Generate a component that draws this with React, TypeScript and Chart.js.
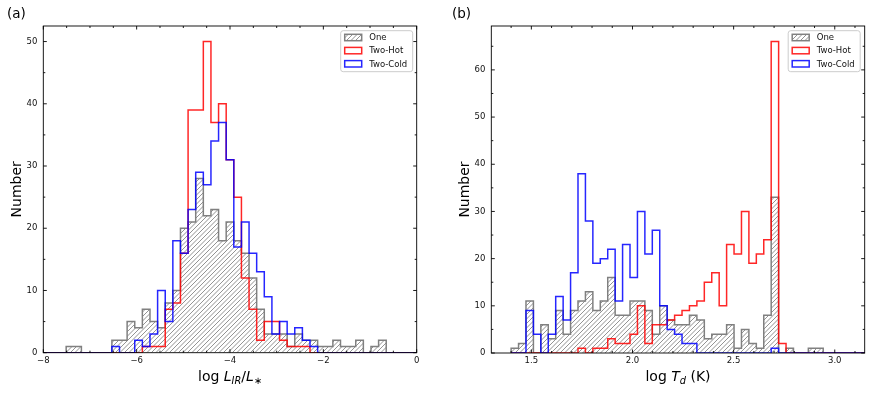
import React, { useEffect, useRef } from 'react';
import { Chart, registerables } from 'chart.js';

Chart.register(...registerables);

// ---------- shared ----------
const SERIES_NAMES = ['One', 'Two-Hot', 'Two-Cold'];
const Y_TITLE = 'Number';

// ---------- panel (a): log L_IR / L_* ----------
const A_LABEL = '(a)';
const A_BIN_START = -8;
const A_BIN_END = 0;
const A_BIN_COUNT = 49;
const A_ONE = [0, 0, 0, 1, 1, 0, 0, 0, 0, 2, 2, 5, 4, 7, 5, 4, 8, 10, 20, 21, 28, 22, 23, 18, 21, 18, 16, 12, 7, 3, 3, 3, 1, 3, 2, 2, 1, 1, 2, 1, 1, 2, 0, 1, 2, 0, 0, 0, 0];
const A_HOT = [0, 0, 0, 0, 0, 0, 0, 0, 0, 0, 0, 0, 0, 1, 1, 1, 7, 8, 16, 39, 39, 50, 37, 40, 31, 25, 12, 7, 2, 5, 5, 2, 1, 1, 1, 0, 0, 0, 0, 0, 0, 0, 0, 0, 0, 0, 0, 0, 0];
const A_COLD = [0, 0, 0, 0, 0, 0, 0, 0, 0, 1, 0, 0, 2, 1, 3, 10, 5, 18, 16, 23, 29, 27, 34, 37, 31, 17, 21, 16, 13, 9, 3, 5, 3, 4, 2, 1, 0, 0, 0, 0, 0, 0, 0, 0, 0, 0, 0, 0, 0];
const A_X_MIN = -8;
const A_X_MAX = 0;
const A_Y_MAX = 52.5;
const A_X_TICKS = [-8, -6, -4, -2, 0];
const A_X_TICK_LABELS = ['\u22128', '\u22126', '\u22124', '\u22122', '0'];
const A_Y_TICKS = [0, 10, 20, 30, 40, 50];
const A_Y_TICK_LABELS = ['0', '10', '20', '30', '40', '50'];
const A_X_MINOR_STEP = 0.5;
const A_Y_MINOR_STEP = 5;
const A_X_TITLE = [
  { t: 'log ', it: false, sub: false },
  { t: 'L', it: true, sub: false },
  { t: 'IR', it: true, sub: true },
  { t: '/', it: false, sub: false },
  { t: 'L', it: true, sub: false },
  { t: '\u2217', it: false, sub: true },
];

// ---------- panel (b): log T_d ----------
const B_LABEL = '(b)';
const B_BIN_START = 1.4;
const B_BIN_END = 3.2;
const B_BIN_COUNT = 49;
const B_ONE = [1, 2, 11, 0, 6, 3, 9, 4, 9, 11, 13, 9, 11, 16, 8, 8, 11, 11, 9, 4, 10, 7, 6, 6, 8, 7, 3, 4, 4, 6, 1, 5, 2, 1, 8, 33, 0, 1, 0, 0, 1, 1, 0, 0, 0, 0, 0, 0, 0];
const B_HOT = [0, 0, 0, 0, 0, 0, 0, 0, 0, 1, 0, 1, 1, 3, 2, 2, 4, 10, 2, 6, 6, 7, 8, 9, 10, 11, 15, 17, 10, 23, 21, 30, 19, 21, 24, 66, 2, 0, 0, 0, 0, 0, 0, 0, 0, 0, 0, 0, 0];
const B_COLD = [0, 0, 9, 4, 0, 4, 12, 7, 17, 38, 28, 19, 20, 22, 11, 23, 16, 30, 21, 26, 10, 5, 4, 2, 2, 0, 0, 0, 0, 0, 0, 0, 0, 0, 0, 1, 0, 0, 0, 0, 0, 0, 0, 0, 0, 0, 0, 0, 0];
const B_X_MIN = 1.302;
const B_X_MAX = 3.148;
const B_Y_MAX = 69.3;
const B_X_TICKS = [1.5, 2.0, 2.5, 3.0];
const B_X_TICK_LABELS = ['1.5', '2.0', '2.5', '3.0'];
const B_Y_TICKS = [0, 10, 20, 30, 40, 50, 60];
const B_Y_TICK_LABELS = ['0', '10', '20', '30', '40', '50', '60'];
const B_X_MINOR_STEP = 0.1;
const B_Y_MINOR_STEP = 5;
const B_X_TITLE = [
  { t: 'log ', it: false, sub: false },
  { t: 'T', it: true, sub: false },
  { t: 'd', it: true, sub: true },
  { t: ' (K)', it: false, sub: false },
];

const FONT = '"DejaVu Sans", sans-serif';
const COLOR_ONE = '#808080';
const COLOR_HOT = 'rgba(255,0,0,0.85)';
const COLOR_COLD = 'rgba(0,0,255,0.85)';

type Run = { t: string; it: boolean; sub: boolean };

type PanelCfg = {
  left: number;
  plotLeft: number;
  padRight: number;
  padTop: number;
  xAxisHeight: number;
  label: string;
  labelX: number;
  binStart: number;
  binEnd: number;
  binCount: number;
  one: number[];
  hot: number[];
  cold: number[];
  xMin: number;
  xMax: number;
  yMax: number;
  xTicks: number[];
  xTickLabels: string[];
  yTicks: number[];
  yTickLabels: string[];
  xMinorStep: number;
  yMinorStep: number;
  xTitle: Run[];
  legendRightGap: number;
};

const PANELS: PanelCfg[] = [
  {
    left: 0,
    plotLeft: 43.3,
    padRight: 19.3,
    padTop: 26,
    xAxisHeight: 40.3,
    label: A_LABEL,
    labelX: 7,
    binStart: A_BIN_START,
    binEnd: A_BIN_END,
    binCount: A_BIN_COUNT,
    one: A_ONE,
    hot: A_HOT,
    cold: A_COLD,
    xMin: A_X_MIN,
    xMax: A_X_MAX,
    yMax: A_Y_MAX,
    xTicks: A_X_TICKS,
    xTickLabels: A_X_TICK_LABELS,
    yTicks: A_Y_TICKS,
    yTickLabels: A_Y_TICK_LABELS,
    xMinorStep: A_X_MINOR_STEP,
    yMinorStep: A_Y_MINOR_STEP,
    xTitle: A_X_TITLE,
    legendRightGap: 4,
  },
  {
    left: 436,
    plotLeft: 55.3,
    padRight: 7.3,
    padTop: 26,
    xAxisHeight: 40,
    label: B_LABEL,
    labelX: 16,
    binStart: B_BIN_START,
    binEnd: B_BIN_END,
    binCount: B_BIN_COUNT,
    one: B_ONE,
    hot: B_HOT,
    cold: B_COLD,
    xMin: B_X_MIN,
    xMax: B_X_MAX,
    yMax: B_Y_MAX,
    xTicks: B_X_TICKS,
    xTickLabels: B_X_TICK_LABELS,
    yTicks: B_Y_TICKS,
    yTickLabels: B_Y_TICK_LABELS,
    xMinorStep: B_X_MINOR_STEP,
    yMinorStep: B_Y_MINOR_STEP,
    xTitle: B_X_TITLE,
    legendRightGap: 4.5,
  },
];

function histPoints(start: number, end: number, n: number, counts: number[]) {
  const w = (end - start) / n;
  const pts: { x: number; y: number }[] = [{ x: start, y: 0 }];
  counts.forEach((c, i) => pts.push({ x: start + i * w, y: c }));
  pts.push({ x: start + counts.length * w, y: 0 });
  return pts;
}

function makeHatch(): CanvasPattern | string {
  const s = 9;
  const c = document.createElement('canvas');
  c.width = s;
  c.height = s;
  const g = c.getContext('2d');
  if (!g) return 'rgba(128,128,128,0.3)';
  g.strokeStyle = 'rgba(128,128,128,0.95)';
  g.lineWidth = 0.9;
  for (let k = -4; k <= 8; k++) {
    const cc = k * 4.5;
    g.beginPath();
    g.moveTo(cc - 20, 20);
    g.lineTo(cc + 20, -20);
    g.stroke();
  }
  const p = g.createPattern(c, 'repeat');
  return p || 'rgba(128,128,128,0.3)';
}

function minorValues(min: number, max: number, step: number, majors: number[]) {
  const out: number[] = [];
  const k0 = Math.ceil(min / step - 1e-9);
  const k1 = Math.floor(max / step + 1e-9);
  for (let k = k0; k <= k1; k++) {
    const v = k * step;
    if (majors.some((m) => Math.abs(m - v) < 1e-6)) continue;
    out.push(v);
  }
  return out;
}

function drawRuns(ctx: CanvasRenderingContext2D, runs: Run[], cx: number, baseline: number, size: number) {
  const fonts = runs.map((r) => `${r.it ? 'italic ' : ''}${r.sub ? size * 0.7 : size}px ${FONT}`);
  const widths = runs.map((r, i) => {
    ctx.font = fonts[i];
    return ctx.measureText(r.t).width;
  });
  const total = widths.reduce((a, b) => a + b, 0);
  let x = cx - total / 2;
  ctx.textAlign = 'left';
  ctx.textBaseline = 'alphabetic';
  runs.forEach((r, i) => {
    ctx.font = fonts[i];
    ctx.fillText(r.t, x, baseline + (r.sub ? size * 0.24 : 0));
    x += widths[i];
  });
}

function Panel({ cfg }: { cfg: PanelCfg }) {
  const ref = useRef<HTMLCanvasElement | null>(null);

  useEffect(() => {
    const canvas = ref.current;
    if (!canvas) return;
    const hatch = makeHatch();

    const decor = {
      id: 'decor' + cfg.label,
      afterDraw(chart: any) {
        const ctx: CanvasRenderingContext2D = chart.ctx;
        const ca = chart.chartArea;
        const xs = chart.scales.x;
        const ys = chart.scales.y;
        ctx.save();
        // frame
        ctx.strokeStyle = '#000';
        ctx.lineWidth = 0.9;
        ctx.strokeRect(ca.left, ca.top, ca.right - ca.left, ca.bottom - ca.top);
        // ticks (inward, all sides)
        ctx.lineWidth = 0.9;
        const tick = (v: number, len: number, axis: 'x' | 'y') => {
          ctx.beginPath();
          if (axis === 'x') {
            const p = xs.getPixelForValue(v);
            ctx.moveTo(p, ca.bottom);
            ctx.lineTo(p, ca.bottom - len);
            ctx.moveTo(p, ca.top);
            ctx.lineTo(p, ca.top + len);
          } else {
            const p = ys.getPixelForValue(v);
            ctx.moveTo(ca.left, p);
            ctx.lineTo(ca.left + len, p);
            ctx.moveTo(ca.right, p);
            ctx.lineTo(ca.right - len, p);
          }
          ctx.stroke();
        };
        cfg.xTicks.forEach((v) => tick(v, 3.5, 'x'));
        cfg.yTicks.forEach((v) => tick(v, 3.5, 'y'));
        minorValues(cfg.xMin, cfg.xMax, cfg.xMinorStep, cfg.xTicks).forEach((v) => tick(v, 2, 'x'));
        minorValues(0, cfg.yMax, cfg.yMinorStep, cfg.yTicks).forEach((v) => tick(v, 2, 'y'));

        ctx.fillStyle = '#000';
        // x title
        drawRuns(ctx, cfg.xTitle, (ca.left + ca.right) / 2, 381, 14);
        // y title
        ctx.save();
        ctx.translate(ca.left - 22.6, (ca.top + ca.bottom) / 2);
        ctx.rotate(-Math.PI / 2);
        ctx.font = `14px ${FONT}`;
        ctx.textAlign = 'center';
        ctx.textBaseline = 'alphabetic';
        ctx.fillText(Y_TITLE, 0, 0);
        ctx.restore();
        // panel label
        ctx.font = `13.5px ${FONT}`;
        ctx.textAlign = 'left';
        ctx.textBaseline = 'alphabetic';
        ctx.fillText(cfg.label, cfg.labelX, 18.3);

        // legend
        const bw = 72;
        const bh = 41;
        const bx = ca.right - cfg.legendRightGap - bw;
        const by = ca.top + 4.7;
        ctx.beginPath();
        const r = 2.5;
        ctx.moveTo(bx + r, by);
        ctx.lineTo(bx + bw - r, by);
        ctx.arcTo(bx + bw, by, bx + bw, by + r, r);
        ctx.lineTo(bx + bw, by + bh - r);
        ctx.arcTo(bx + bw, by + bh, bx + bw - r, by + bh, r);
        ctx.lineTo(bx + r, by + bh);
        ctx.arcTo(bx, by + bh, bx, by + bh - r, r);
        ctx.lineTo(bx, by + r);
        ctx.arcTo(bx, by, bx + r, by, r);
        ctx.closePath();
        ctx.fillStyle = 'rgba(255,255,255,0.8)';
        ctx.fill();
        ctx.strokeStyle = '#cccccc';
        ctx.lineWidth = 1;
        ctx.stroke();

        const rowY = [6.8, 19.9, 33.1];
        const colors = [COLOR_ONE, COLOR_HOT, COLOR_COLD];
        SERIES_NAMES.forEach((name, i) => {
          const cy = by + rowY[i];
          const px = bx + 4;
          const pw = 17;
          const ph = 6.4;
          if (i === 0) {
            ctx.fillStyle = hatch as any;
            ctx.fillRect(px, cy - ph / 2, pw, ph);
          }
          ctx.strokeStyle = colors[i];
          ctx.lineWidth = 1.5;
          ctx.strokeRect(px, cy - ph / 2, pw, ph);
          ctx.fillStyle = '#111';
          ctx.font = `8.5px ${FONT}`;
          ctx.textAlign = 'left';
          ctx.textBaseline = 'middle';
          ctx.fillText(name, bx + 28.5, cy + 0.5);
        });
        ctx.restore();
      },
    };

    const common = {
      stepped: 'before' as const,
      pointRadius: 0,
      borderWidth: 1.5,
      borderJoinStyle: 'miter' as const,
      borderCapStyle: 'butt' as const,
      tension: 0,
    };

    const chart = new Chart(canvas, {
      type: 'line',
      data: {
        datasets: [
          {
            ...common,
            label: SERIES_NAMES[2],
            data: histPoints(cfg.binStart, cfg.binEnd, cfg.binCount, cfg.cold),
            borderColor: COLOR_COLD,
            fill: false,
            order: 1,
          },
          {
            ...common,
            label: SERIES_NAMES[1],
            data: histPoints(cfg.binStart, cfg.binEnd, cfg.binCount, cfg.hot),
            borderColor: COLOR_HOT,
            fill: false,
            order: 2,
          },
          {
            ...common,
            label: SERIES_NAMES[0],
            data: histPoints(cfg.binStart, cfg.binEnd, cfg.binCount, cfg.one),
            borderColor: COLOR_ONE,
            backgroundColor: hatch as any,
            fill: 'origin',
            order: 3,
          },
        ],
      },
      options: {
        animation: false,
        responsive: false,
        maintainAspectRatio: false,
        devicePixelRatio: 1,
        events: [],
        layout: { padding: { left: 0, right: cfg.padRight, top: cfg.padTop, bottom: 0 } },
        plugins: {
          legend: { display: false },
          tooltip: { enabled: false },
          title: { display: false },
        },
        scales: {
          x: {
            type: 'linear',
            min: cfg.xMin,
            max: cfg.xMax,
            grid: { display: false, drawTicks: false },
            border: { display: false },
            ticks: {
              autoSkip: false,
              maxRotation: 0,
              padding: 3,
              color: '#111',
              font: { family: FONT, size: 8.5 },
              callback: (_v: any, i: number) => cfg.xTickLabels[i],
            },
            afterBuildTicks: (s: any) => {
              s.ticks = cfg.xTicks.map((v) => ({ value: v }));
            },
            afterFit: (s: any) => {
              s.height = cfg.xAxisHeight;
            },
          },
          y: {
            type: 'linear',
            min: 0,
            max: cfg.yMax,
            grid: { display: false, drawTicks: false },
            border: { display: false },
            ticks: {
              autoSkip: false,
              padding: 6,
              color: '#111',
              font: { family: FONT, size: 8.5 },
              callback: (_v: any, i: number) => cfg.yTickLabels[i],
            },
            afterBuildTicks: (s: any) => {
              s.ticks = cfg.yTicks.map((v) => ({ value: v }));
            },
            afterFit: (s: any) => {
              s.width = cfg.plotLeft;
            },
          },
        },
      } as any,
      plugins: [decor],
    });
    return () => chart.destroy();
  }, [cfg]);

  return (
    <canvas
      ref={ref}
      width={436}
      height={393}
      style={{ position: 'absolute', left: cfg.left, top: 0, width: 436, height: 393 }}
    />
  );
}

export default function App() {
  return (
    <div style={{ position: 'absolute', left: 0, top: 0, width: 872, height: 393, background: '#fff' }}>
      {PANELS.map((p) => (
        <Panel key={p.label} cfg={p} />
      ))}
    </div>
  );
}
